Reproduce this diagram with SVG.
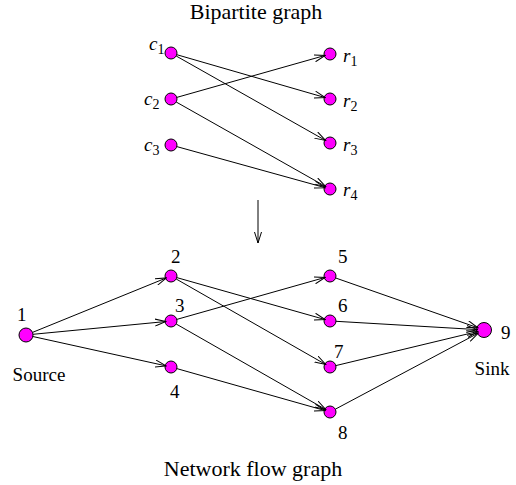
<svg xmlns="http://www.w3.org/2000/svg" width="516" height="485" viewBox="0 0 516 485">
  <style>
    .node { fill: #ff00ff; stroke: #000; stroke-width: 1; }
    .edge { stroke: #000; stroke-width: 1; fill: none; marker-end: url(#arrow); }
    text { font-family: "Liberation Serif", "Times New Roman", serif; font-size: 19px; fill: #000; }
    .title { font-size: 22px; }
    .it { font-style: italic; }
    .sub { font-size: 14px; font-style: normal; }
    .mid { text-anchor: middle; }
  </style>
  <defs>
    <marker id="arrow" markerWidth="12" markerHeight="8" refX="11" refY="4" orient="auto" markerUnits="userSpaceOnUse">
      <path d="M0,0.5 L11,4 L0,7.5" fill="none" stroke="#000" stroke-width="1"/>
    </marker>
  </defs>

  <text class="mid title" x="256" y="19">Bipartite graph</text>
  <text class="mid title" x="253" y="476">Network flow graph</text>

  <!-- bipartite graph nodes -->
  <g id="c1"><circle class="node" cx="171" cy="53" r="6"/><text class="it" x="149" y="50">c<tspan class="sub" dy="4">1</tspan></text></g>
  <g id="c2"><circle class="node" cx="171" cy="99" r="6"/><text class="it" x="144" y="105">c<tspan class="sub" dy="4">2</tspan></text></g>
  <g id="c3"><circle class="node" cx="171" cy="145" r="6"/><text class="it" x="144" y="151">c<tspan class="sub" dy="4">3</tspan></text></g>
  <g id="r1"><circle class="node" cx="330" cy="54" r="6"/><text class="it" x="343" y="62">r<tspan class="sub" dy="4">1</tspan></text></g>
  <g id="r2"><circle class="node" cx="330" cy="99" r="6"/><text class="it" x="343" y="107">r<tspan class="sub" dy="4">2</tspan></text></g>
  <g id="r3"><circle class="node" cx="330" cy="143" r="6"/><text class="it" x="343" y="151">r<tspan class="sub" dy="4">3</tspan></text></g>
  <g id="r4"><circle class="node" cx="330" cy="189" r="6"/><text class="it" x="343" y="196">r<tspan class="sub" dy="4">4</tspan></text></g>

  <!-- network flow nodes -->
  <g id="n1"><circle class="node" cx="26" cy="335" r="7"/><text x="17" y="321">1</text><text class="mid" x="39" y="381">Source</text></g>
  <g id="n2"><circle class="node" cx="171" cy="276" r="6"/><text x="171" y="263">2</text></g>
  <g id="n3"><circle class="node" cx="171" cy="321" r="6"/><text x="175" y="312">3</text></g>
  <g id="n4"><circle class="node" cx="171" cy="367" r="6"/><text x="170" y="398">4</text></g>
  <g id="n5"><circle class="node" cx="330" cy="276" r="6"/><text x="338" y="263">5</text></g>
  <g id="n6"><circle class="node" cx="330" cy="321" r="6"/><text x="338" y="312">6</text></g>
  <g id="n7"><circle class="node" cx="330" cy="367" r="6"/><text x="334" y="358">7</text></g>
  <g id="n8"><circle class="node" cx="330" cy="412" r="6"/><text x="338" y="439">8</text></g>
  <g id="n9"><circle class="node" cx="484" cy="330" r="7.5"/><text x="501" y="339">9</text><text class="mid" x="492" y="375">Sink</text></g>

  <g id="connectors">
    <line class="edge" x1="176.8" y1="54.7" x2="325.2" y2="97.6"/>
    <line class="edge" x1="176.2" y1="56" x2="325.6" y2="140.5"/>
    <line class="edge" x1="176.8" y1="97.4" x2="325.2" y2="55.4"/>
    <line class="edge" x1="176.2" y1="102" x2="325.6" y2="186.5"/>
    <line class="edge" x1="176.8" y1="146.6" x2="325.2" y2="187.7"/>

    <line class="edge" x1="258" y1="200" x2="258" y2="243"/>

    <line class="edge" x1="32.5" y1="332.4" x2="166.4" y2="277.9"/>
    <line class="edge" x1="33" y1="334.3" x2="166" y2="321.5"/>
    <line class="edge" x1="32.8" y1="336.5" x2="166.1" y2="365.9"/>
    <line class="edge" x1="176.8" y1="277.6" x2="325.2" y2="319.6"/>
    <line class="edge" x1="176.2" y1="279" x2="325.7" y2="364.5"/>
    <line class="edge" x1="176.8" y1="319.4" x2="325.2" y2="277.4"/>
    <line class="edge" x1="176.2" y1="324" x2="325.7" y2="409.5"/>
    <line class="edge" x1="176.8" y1="368.6" x2="325.2" y2="410.6"/>
    <line class="edge" x1="335.7" y1="278" x2="477.9" y2="327.8"/>
    <line class="edge" x1="336" y1="321.3" x2="477.5" y2="329.6"/>
    <line class="edge" x1="335.8" y1="365.6" x2="477.7" y2="331.5"/>
    <line class="edge" x1="335.3" y1="409.2" x2="478.3" y2="333.1"/>
  </g>
</svg>
